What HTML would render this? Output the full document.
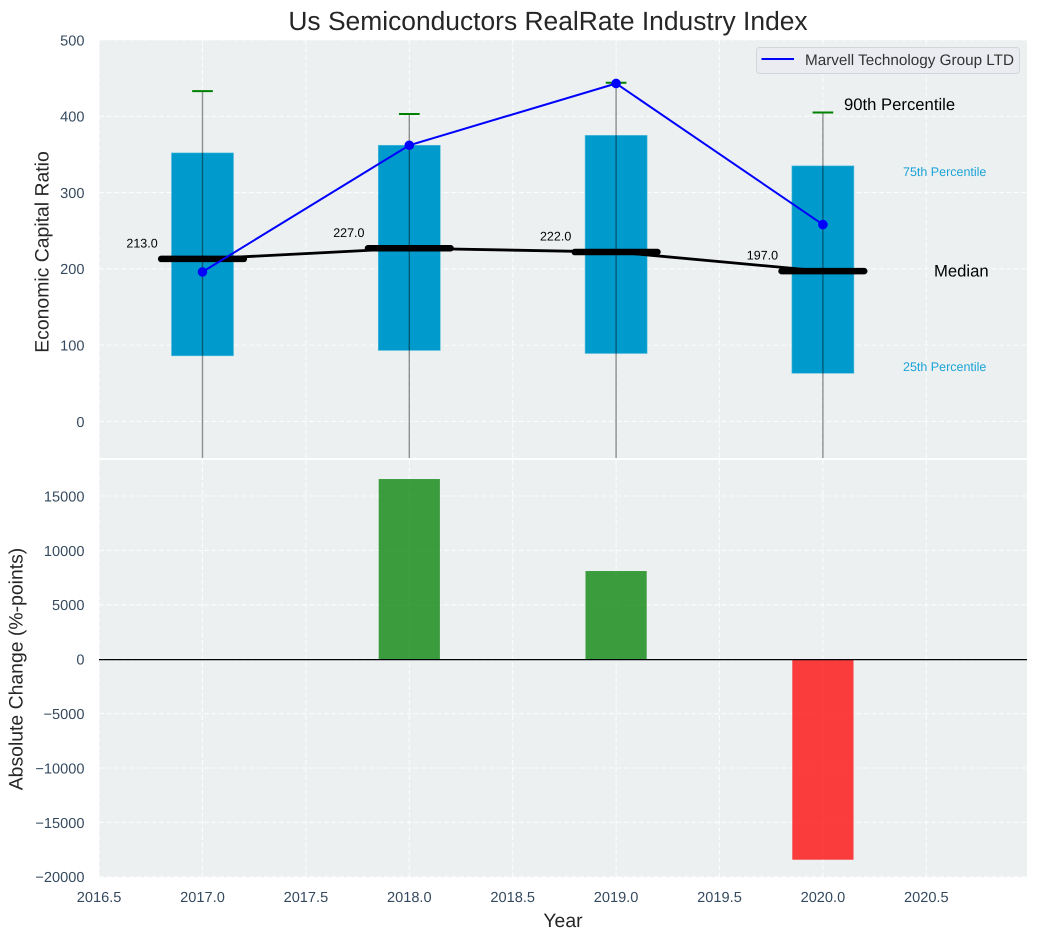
<!DOCTYPE html>
<html lang="en">
<head>
<meta charset="utf-8">
<title>Us Semiconductors RealRate Industry Index</title>
<style>
html,body{margin:0;padding:0;background:#fff;width:1038px;height:940px;overflow:hidden}
svg{display:block;font-family:"Liberation Sans",Arial,sans-serif;text-rendering:geometricPrecision}
</style>
</head>
<body>
<svg id="chart" xmlns="http://www.w3.org/2000/svg" width="1038" height="940" viewBox="0 0 1038 940">
  <defs>
    <clipPath id="clip-top"><rect x="99" y="40" width="928" height="418"/></clipPath>
    <clipPath id="clip-bottom"><rect x="99" y="460" width="928" height="417.5"/></clipPath>
  </defs>
  <text x="548" y="30" text-anchor="middle" font-size="26.4" fill="#262626">Us Semiconductors RealRate Industry Index</text>
  <rect x="99" y="40" width="928" height="418" fill="#ecf0f1"/>
  <rect x="99" y="460" width="928" height="417.5" fill="#ecf0f1"/>
  <g id="grid-top" clip-path="url(#clip-top)"></g>
  <g id="grid-bottom" clip-path="url(#clip-bottom)"></g>
  <g id="marks-top" clip-path="url(#clip-top)"></g>
  <g id="marks-bottom" clip-path="url(#clip-bottom)"></g>
  <g id="tick-labels"></g>
  <text transform="translate(48.500,252) rotate(-90)" text-anchor="middle" font-size="19.4" fill="#262626">Economic Capital Ratio</text>
  <text transform="translate(22.500,669) rotate(-90)" text-anchor="middle" font-size="19.4" fill="#262626">Absolute Change (%-points)</text>
  <text x="563" y="927" text-anchor="middle" font-size="19.4" fill="#262626">Year</text>
  <text x="844" y="110" font-size="16.67" fill="#000">90th Percentile</text>
  <text x="903" y="176" font-size="12.5" fill="#1aa3d6">75th Percentile</text>
  <text x="934" y="276.500" font-size="16.67" fill="#000">Median</text>
  <text x="903" y="371" font-size="12.5" fill="#1aa3d6">25th Percentile</text>
  <g>
    <rect x="756.500" y="47.500" width="263" height="26" rx="3" fill="#eaecf1" stroke="#d3d5d8" stroke-width="1"/>
    <line x1="761.500" y1="59" x2="794" y2="59" stroke="#0000ff" stroke-width="2"/>
    <text x="805" y="65" font-size="15.28" fill="#333">Marvell Technology Group LTD</text>
  </g>
</svg>
<script>
const years = [2017, 2018, 2019, 2020];
const p90 = [433, 403, 444, 405];
const p75 = [352, 362, 375, 335];
const p25 = [86, 93, 89, 63];
const p10 = [-60, -60, -60, -60];
const medians = [213, 227, 222, 197];
const marvell = [196, 362, 443, 258];
const changes = [0, 16560, 8105, -18430];
const xTicks = [2016.5, 2017, 2017.5, 2018, 2018.5, 2019, 2019.5, 2020, 2020.5];
const topYTicks = [0, 100, 200, 300, 400, 500];
const bottomYTicks = [-20000, -15000, -10000, -5000, 0, 5000, 10000, 15000];

const NS = 'http://www.w3.org/2000/svg';
const x = function (v) { return 202.5 + (v - 2017) * 206.8; };
const yTop = function (v) { return 421.4 - v * 0.7628; };
const yBottom = function (v) { return 659.2 - v * 0.01088; };

function make(parent, tag, props, text) {
  const el = document.createElementNS(NS, tag);
  for (const k in props) { el.setAttribute(k, props[k]); }
  if (text !== undefined) { el.textContent = text; }
  parent.appendChild(el);
  return el;
}

const gridTop = document.getElementById('grid-top');
const gridBottom = document.getElementById('grid-bottom');
const marksTop = document.getElementById('marks-top');
const marksBottom = document.getElementById('marks-bottom');
const tickLabels = document.getElementById('tick-labels');
const gridStyle = { stroke: '#ffffff', 'stroke-width': 1.1, 'stroke-dasharray': '5 2.5', opacity: 0.8 };

xTicks.forEach(function (t) {
  const a = make(gridTop, 'line', Object.assign({ x1: x(t), x2: x(t), y1: 40, y2: 458 }, gridStyle));
  
  
  const b = make(gridBottom, 'line', Object.assign({ x1: x(t), x2: x(t), y1: 460, y2: 877.5 }, gridStyle));
  
  
  const label = make(tickLabels, 'text', { x: x(t), y: 902, 'text-anchor': 'middle', 'font-size': 14.6, fill: '#34495e' }, t.toFixed(1));
  
  
});

topYTicks.forEach(function (t) {
  const g = make(gridTop, 'line', Object.assign({ x1: 99, x2: 1027, y1: yTop(t), y2: yTop(t) }, gridStyle));
  
  
  const label = make(tickLabels, 'text', { x: 84.5, y: yTop(t) + 5.4, 'text-anchor': 'end', 'font-size': 14.6, fill: '#34495e' }, String(t));
  
  
});

bottomYTicks.forEach(function (t) {
  const g = make(gridBottom, 'line', Object.assign({ x1: 99, x2: 1027, y1: yBottom(t), y2: yBottom(t) }, gridStyle));
  
  
  const text = (t < 0 ? '\u2212' : '') + Math.abs(t);
  const label = make(tickLabels, 'text', { x: 84.5, y: yBottom(t) + 5.4, 'text-anchor': 'end', 'font-size': 14.6, fill: '#34495e' }, text);
  
  
});

years.forEach(function (yr, i) {
  const box = make(marksTop, 'rect', {
    x: x(yr - 0.15), y: yTop(p75[i]), width: x(yr + 0.15) - x(yr - 0.15), height: yTop(p25[i]) - yTop(p75[i]),
    fill: '#009bcc', stroke: '#5cc0de', 'stroke-width': 0.6
  });
  
  
});

const medianPath = make(marksTop, 'polyline', {
  points: years.map(function (yr, i) { return x(yr) + ',' + yTop(medians[i]); }).join(' '),
  fill: 'none', stroke: '#000', 'stroke-width': 2.8
});



years.forEach(function (yr, i) {
  const whisker = make(marksTop, 'line', { x1: x(yr), x2: x(yr), y1: yTop(p90[i]), y2: yTop(p10[i]), stroke: '#000', 'stroke-opacity': 0.42, 'stroke-width': 1.4 });
  
  
  const cap = make(marksTop, 'line', { x1: x(yr - 0.05), x2: x(yr + 0.05), y1: yTop(p90[i]), y2: yTop(p90[i]), stroke: '#008000', 'stroke-width': 2 });
  
  
  const med = make(marksTop, 'line', { x1: x(yr - 0.2), x2: x(yr + 0.2), y1: yTop(medians[i]), y2: yTop(medians[i]), stroke: '#000', 'stroke-width': 6.5, 'stroke-linecap': 'round' });
  
  
  const label = make(marksTop, 'text', { x: x(yr - 0.368), y: yTop(medians[i] + 15), 'font-size': 12.5, fill: '#000' }, medians[i].toFixed(1));
  
  
});

const marvellLine = make(marksTop, 'polyline', {
  points: years.map(function (yr, i) { return x(yr) + ',' + yTop(marvell[i]); }).join(' '),
  fill: 'none', stroke: '#0000ff', 'stroke-width': 2
});



years.forEach(function (yr, i) {
  const dot = make(marksTop, 'circle', { cx: x(yr), cy: yTop(marvell[i]), r: 4.8, fill: '#0000ff' });
  
  
});

years.forEach(function (yr, i) {
  const v = changes[i];
  if (v === 0) { return; }
  const top = Math.min(yBottom(v), yBottom(0));
  const bar = make(marksBottom, 'rect', {
    x: x(yr - 0.148), y: top, width: x(yr + 0.148) - x(yr - 0.148), height: Math.abs(yBottom(v) - yBottom(0)),
    fill: v > 0 ? '#008000' : '#ff0000', 'fill-opacity': 0.75
  });
  
  
});

const zeroLine = make(marksBottom, 'line', { x1: 99, x2: 1027, y1: yBottom(0) + 0.4, y2: yBottom(0) + 0.4, stroke: '#000', 'stroke-width': 1.3 });


</script>
</body>
</html>
